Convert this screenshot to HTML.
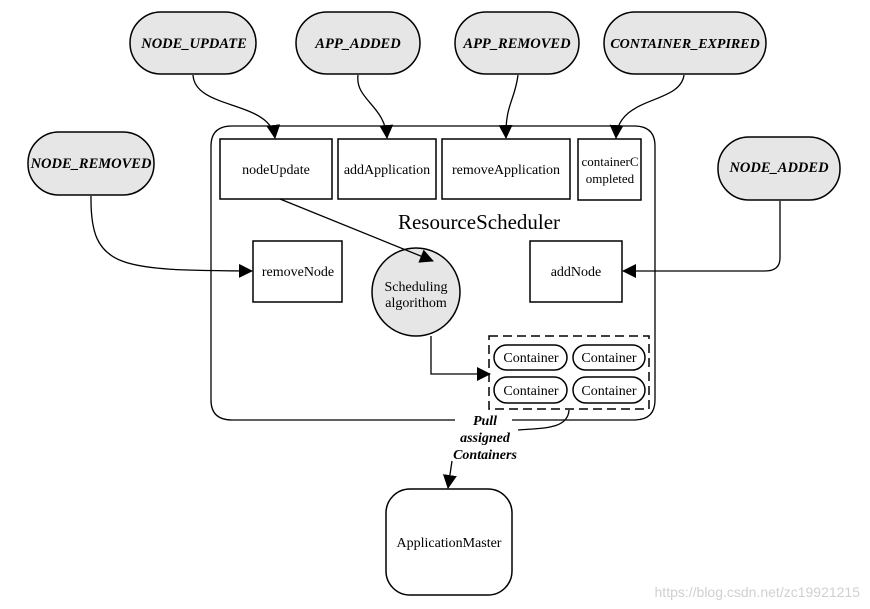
<!DOCTYPE html>
<html><head><meta charset="utf-8"><style>html,body{margin:0;padding:0;background:#fff}svg{display:block}</style></head>
<body>
<svg width="870" height="609" viewBox="0 0 870 609" xmlns="http://www.w3.org/2000/svg" font-family="Liberation Serif, serif">
<defs>
<marker id="b" markerWidth="14" markerHeight="14" refX="13" refY="7" orient="auto" markerUnits="userSpaceOnUse"><path d="M0,0 L14,7 L0,14 Z" fill="#000"/></marker>
</defs>
<g fill="#e6e6e6" stroke="#000" stroke-width="1.5">
<rect x="130" y="12" width="126" height="62" rx="31"/>
<rect x="296" y="12" width="124" height="62" rx="31"/>
<rect x="455" y="12" width="124" height="62" rx="31"/>
<rect x="604" y="12" width="162" height="62" rx="31"/>
<rect x="28" y="132" width="126" height="63" rx="31"/>
<rect x="718" y="137" width="122" height="63" rx="31"/>
<circle cx="416" cy="292" r="44"/>
</g>
<g font-weight="bold" font-style="italic" font-size="14.5" text-anchor="middle">
<text x="194" y="48">NODE_UPDATE</text>
<text x="358" y="48">APP_ADDED</text>
<text x="517" y="48">APP_REMOVED</text>
<text x="685" y="48" font-size="14">CONTAINER_EXPIRED</text>
<text x="91" y="168">NODE_REMOVED</text>
<text x="779" y="172">NODE_ADDED</text>
</g>
<g fill="none" stroke="#000" stroke-width="1.5">
<path d="M232,126 L634,126 Q655,126 655,146 L655,400 Q655,420 634,420 L512,420 M455,420 L232,420 Q211,420 211,400 L211,146 Q211,126 232,126" stroke-width="1.3"/>
<rect x="220" y="139" width="112" height="60" fill="#fff"/>
<rect x="338" y="139" width="98" height="60" fill="#fff"/>
<rect x="442" y="139" width="128" height="60" fill="#fff"/>
<rect x="578" y="139" width="63" height="61" fill="#fff"/>
<rect x="253" y="241" width="89" height="61"/>
<rect x="530" y="241" width="92" height="61"/>
<rect x="489" y="336" width="160" height="73" stroke-dasharray="9,5"/>
<rect x="494" y="345" width="73" height="25" rx="12.5"/>
<rect x="573" y="345" width="72" height="25" rx="12.5"/>
<rect x="494" y="377" width="73" height="26" rx="13"/>
<rect x="573" y="377" width="72" height="26" rx="13"/>
<rect x="386" y="489" width="126" height="106" rx="24"/>
</g>
<g fill="none" stroke="#000" stroke-width="1.3">
<path d="M193,75 C195,110 270,100 275,138" marker-end="url(#b)"/>
<path d="M358,75 C355,100 385,105 387,138" marker-end="url(#b)"/>
<path d="M518,75 C515,100 505,105 506,138" marker-end="url(#b)"/>
<path d="M684,75 C680,105 618,95 616,138" marker-end="url(#b)"/>
<path d="M91,196 C90,270 120,270 252,271" marker-end="url(#b)"/>
<path d="M780,201 L780,258 Q780,271 765,271 L623,271" marker-end="url(#b)"/>
<path d="M280,199 L433,261" marker-end="url(#b)"/>
<path d="M431,336 L431,374 L490,374" marker-end="url(#b)"/>
<path d="M569,410 C568,430 540,428 518,430"/>
<path d="M452,461 L448,488" marker-end="url(#b)"/>
</g>
<g font-size="14" text-anchor="middle">
<text x="276" y="174">nodeUpdate</text>
<text x="387" y="174">addApplication</text>
<text x="506" y="174">removeApplication</text>
<text x="610" y="166" font-size="13">containerC</text>
<text x="610" y="183" font-size="13">ompleted</text>
<text x="298" y="276">removeNode</text>
<text x="576" y="276">addNode</text>
<text x="416" y="291">Scheduling</text>
<text x="416" y="307">algorithom</text>
<text x="531" y="362">Container</text>
<text x="609" y="362">Container</text>
<text x="531" y="395">Container</text>
<text x="609" y="395">Container</text>
<text x="449" y="547">ApplicationMaster</text>
</g>
<text x="479" y="229" font-size="21" text-anchor="middle">ResourceScheduler</text>
<g font-weight="bold" font-style="italic" font-size="14" text-anchor="middle">
<text x="485" y="425">Pull</text>
<text x="485" y="442">assigned</text>
<text x="485" y="459">Containers</text>
</g>
<text x="860" y="597" font-family="Liberation Sans, sans-serif" font-size="14" fill="#d0d0d0" text-anchor="end">https://blog.csdn.net/zc19921215</text>
</svg>
</body></html>
